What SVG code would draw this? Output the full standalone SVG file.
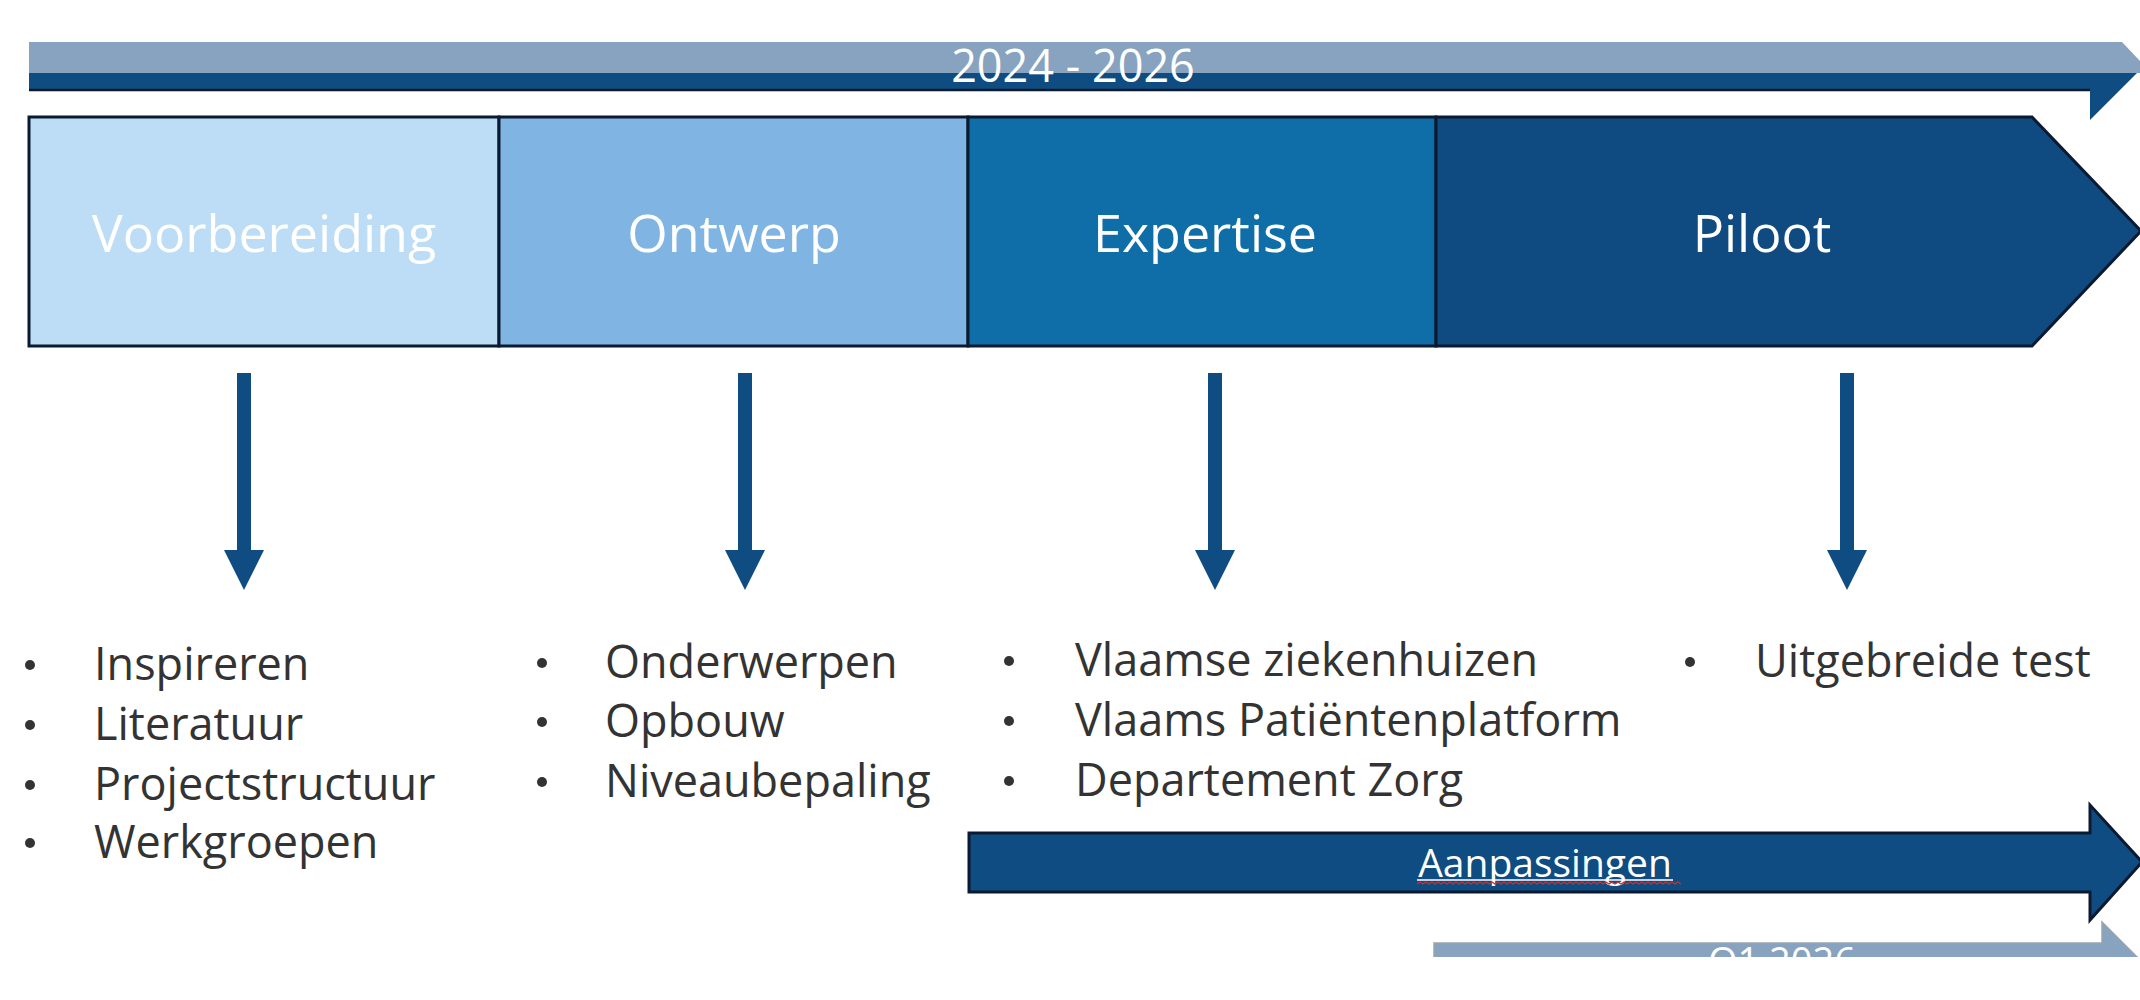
<svg xmlns="http://www.w3.org/2000/svg" width="2140" height="1000" viewBox="0 0 2140 1000">
  <style>
    .lbl { font-family: "Open Sans", "Liberation Sans", sans-serif; fill: #ffffff; font-size: 52px; text-anchor: middle; }
    .bar { font-family: "Open Sans", "Liberation Sans", sans-serif; fill: #ffffff; text-anchor: middle; }
    .item { font-family: "Open Sans", "Liberation Sans", sans-serif; fill: #333333; font-size: 45px; }
    .dot { fill: #333333; }
    .edge { stroke: #0b1a30; stroke-width: 3; stroke-linejoin: miter; }
    .dark { fill: #0f4c81; }
    .light { fill: #87a3bf; }
  </style>
  <defs>
    <clipPath id="bottomClip">
      <rect x="0" y="900" width="2140" height="57"/>
    </clipPath>
  </defs>
  <rect width="2140" height="1000" fill="#ffffff"/>

  <g id="period-2024-2026">
    <polygon class="light" points="29,42 2122,42 2140,61 2140,73 29,73"/>
    <polygon class="dark" points="29,73 2137,73 2090,120 2090,90 29,90"/>
    <line x1="29" y1="90" x2="2090" y2="90" stroke="#0b1a30" stroke-width="2.5"/>
    <text class="bar" x="1073" y="82" font-size="45">2024 - 2026</text>
  </g>

  <g id="phase-voorbereiding">
    <rect x="29" y="117" width="470" height="229" fill="#bddcf5" class="edge"/>
    <text class="lbl" x="264" y="252">Voorbereiding</text>
  </g>
  <g id="phase-ontwerp">
    <rect x="499" y="117" width="469" height="229" fill="#80b4e2" class="edge"/>
    <text class="lbl" x="734" y="252">Ontwerp</text>
  </g>
  <g id="phase-expertise">
    <rect x="968" y="117" width="468" height="229" fill="#0f6ea8" class="edge"/>
    <text class="lbl" x="1205" y="252">Expertise</text>
  </g>
  <g id="phase-piloot">
    <polygon points="1436,117 2032,117 2141,231 2032,346 1436,346" fill="#0f4a80" class="edge"/>
    <text class="lbl" x="1762" y="252">Piloot</text>
  </g>

  <g id="connectors">
    <polygon class="dark" points="237,373 251,373 251,550 264,550 244,590 224,550 237,550"/>
    <polygon class="dark" points="738,373 752,373 752,550 765,550 745,590 725,550 738,550"/>
    <polygon class="dark" points="1208,373 1222,373 1222,550 1235,550 1215,590 1195,550 1208,550"/>
    <polygon class="dark" points="1840,373 1854,373 1854,550 1867,550 1847,590 1827,550 1840,550"/>
  </g>

  <g id="list-voorbereiding">
    <circle class="dot" cx="30" cy="665" r="5"/>
    <text class="item" x="94" y="680">Inspireren</text>
    <circle class="dot" cx="30" cy="725" r="5"/>
    <text class="item" x="94" y="740">Literatuur</text>
    <circle class="dot" cx="30" cy="785" r="5"/>
    <text class="item" x="94" y="800">Projectstructuur</text>
    <circle class="dot" cx="30" cy="843" r="5"/>
    <text class="item" x="94" y="858">Werkgroepen</text>
  </g>
  <g id="list-ontwerp">
    <circle class="dot" cx="542" cy="663" r="5"/>
    <text class="item" x="605" y="678">Onderwerpen</text>
    <circle class="dot" cx="542" cy="722" r="5"/>
    <text class="item" x="605" y="737">Opbouw</text>
    <circle class="dot" cx="542" cy="782" r="5"/>
    <text class="item" x="605" y="797">Niveaubepaling</text>
  </g>
  <g id="list-expertise">
    <circle class="dot" cx="1009" cy="661" r="5"/>
    <text class="item" x="1075" y="676">Vlaamse ziekenhuizen</text>
    <circle class="dot" cx="1009" cy="721" r="5"/>
    <text class="item" x="1075" y="736">Vlaams Patiëntenplatform</text>
    <circle class="dot" cx="1009" cy="781" r="5"/>
    <text class="item" x="1075" y="796">Departement Zorg</text>
  </g>
  <g id="list-piloot">
    <circle class="dot" cx="1690" cy="662" r="5"/>
    <text class="item" x="1755" y="677">Uitgebreide test</text>
  </g>

  <g id="aanpassingen">
    <polygon class="dark edge" points="969,833 2090,833 2090,805 2142,862 2090,920 2090,892 969,892"/>
    <text class="bar" x="1545" y="877" font-size="39">Aanpassingen</text>
    <line x1="1417" y1="880" x2="1673" y2="880" stroke="#ffffff" stroke-width="1.5"/>
    <path d="M1417,884 l3,-2 l3,2 l3,-2 l3,2 l3,-2 l3,2 l3,-2 l3,2 l3,-2 l3,2 l3,-2 l3,2 l3,-2 l3,2 l3,-2 l3,2 l3,-2 l3,2 l3,-2 l3,2 l3,-2 l3,2 l3,-2 l3,2 l3,-2 l3,2 l3,-2 l3,2 l3,-2 l3,2 l3,-2 l3,2 l3,-2 l3,2 l3,-2 l3,2 l3,-2 l3,2 l3,-2 l3,2 l3,-2 l3,2 l3,-2 l3,2 l3,-2 l3,2 l3,-2 l3,2 l3,-2 l3,2 l3,-2 l3,2 l3,-2 l3,2 l3,-2 l3,2 l3,-2 l3,2 l3,-2 l3,2 l3,-2 l3,2 l3,-2 l3,2 l3,-2 l3,2 l3,-2 l3,2 l3,-2 l3,2 l3,-2 l3,2 l3,-2 l3,2 l3,-2 l3,2 l3,-2 l3,2 l3,-2 l3,2 l3,-2 l3,2 l3,-2 l3,2 l3,-2 l3,2 l3,-2 l3,2" fill="none" stroke="#d0302f" stroke-width="1.3"/>
  </g>

  <g id="q1-2026" clip-path="url(#bottomClip)">
    <polygon class="light" points="1434,943 2102,943 2102,922 2145,965 1434,965" stroke="#9aa4ae" stroke-width="1.5"/>
    <text class="bar" x="1782" y="975" font-size="38">Q1 2026</text>
  </g>
</svg>
